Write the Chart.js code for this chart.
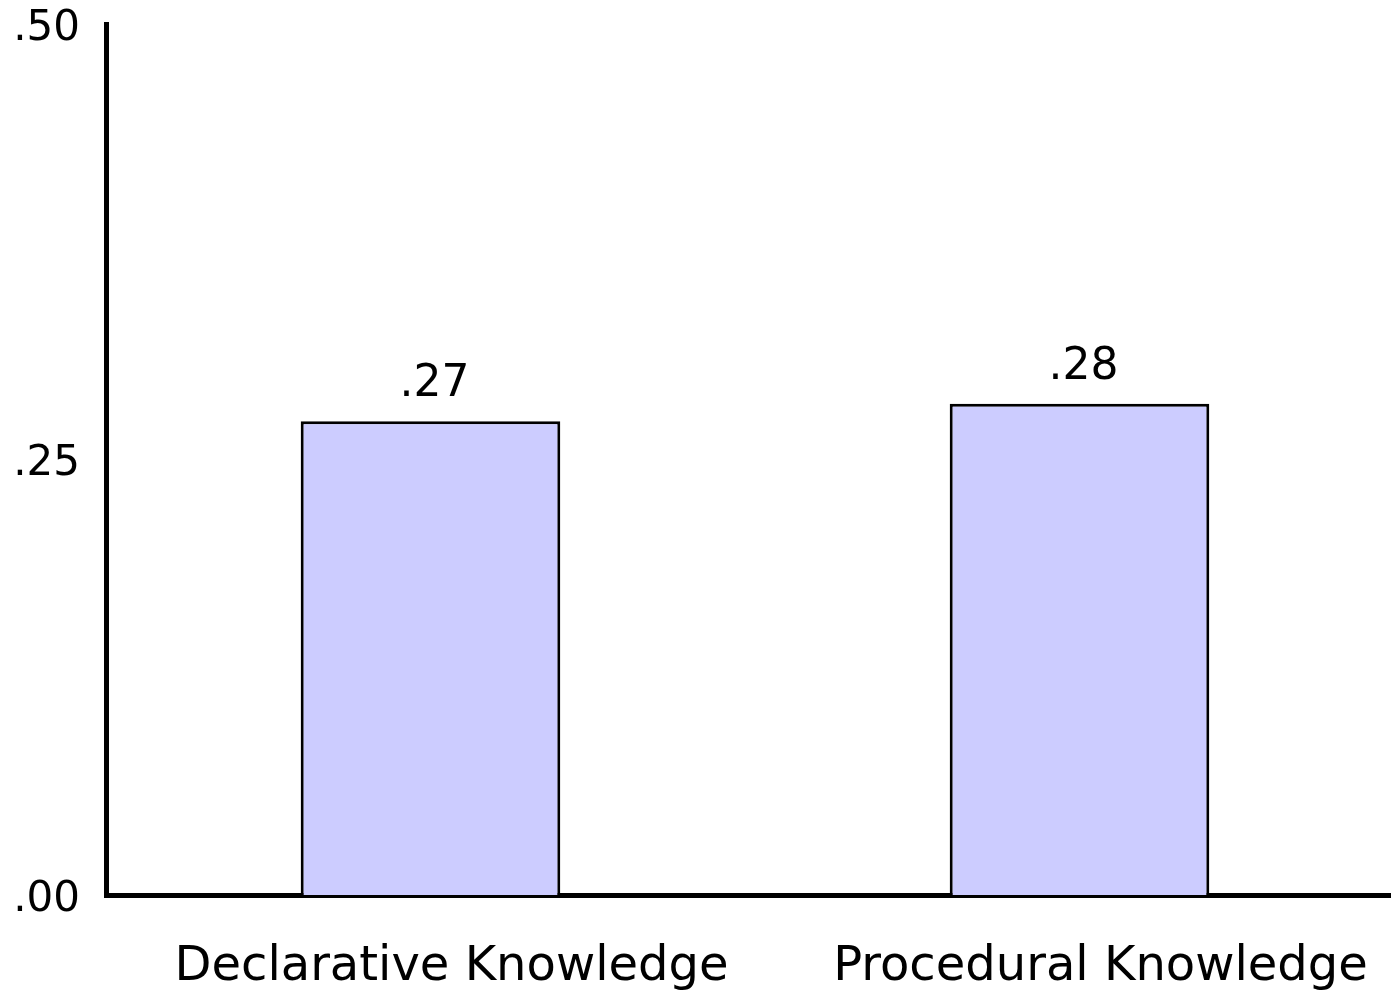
<!DOCTYPE html>
<html>
<head>
<meta charset="utf-8">
<script src="https://cdn.jsdelivr.net/npm/chart.js@4"></script>
<style>
html,body{margin:0;padding:0;background:#fff;overflow:hidden;}
#wrap{width:1404px;height:994px;position:relative;}
</style>
</head>
<body>
<div id="wrap"><canvas id="c"></canvas></div>
<script>
const categories = ["Declarative Knowledge", "Procedural Knowledge"];
const values = [0.272, 0.282];
const yTicks = [0, 0.25, 0.5];

function fmt(v){ return v.toFixed(2).replace(/^0/, ''); }

const valueLabels = {
  id: 'valueLabels',
  afterDatasetsDraw(chart){
    const ctx = chart.ctx;
    const meta = chart.getDatasetMeta(0);
    ctx.save();
    ctx.font = '44px "DejaVu Sans"';
    ctx.fillStyle = '#000';
    ctx.textAlign = 'center';
    ctx.textBaseline = 'alphabetic';
    meta.data.forEach((bar, i) => {
      ctx.fillText(fmt(values[i]), bar.x + 4, bar.y - 25);
    });
    ctx.restore();
  }
};

new Chart(document.getElementById('c'), {
  type: 'bar',
  data: {
    labels: categories,
    datasets: [{
      data: values,
      backgroundColor: '#CCCCFF',
      borderColor: '#000',
      borderWidth: 3,
      borderSkipped: 'bottom',
      barPercentage: 0.4,
      categoryPercentage: 1.0
    }]
  },
  options: {
    responsive: true,
    maintainAspectRatio: false,
    animation: false,
    layout: { padding: { top: 24, right: 0, left: 0, bottom: 0 } },
    plugins: { legend: { display: false }, tooltip: { enabled: false } },
    scales: {
      x: {
        grid: { display: false, drawTicks: false },
        border: { display: true, width: 5, color: '#000' },
        ticks: { color: '#000', font: { family: 'DejaVu Sans', size: 48 }, padding: 44, labelOffset: 21, maxRotation: 0, autoSkip: false },
        afterFit(s){ s.height = 99; s.paddingLeft = 0; s.paddingRight = 0; }
      },
      y: {
        min: 0, max: 0.5,
        afterBuildTicks(s){ s.ticks = yTicks.map(v => ({ value: v })); },
        grid: { display: false, drawTicks: false },
        border: { display: true, width: 5, color: '#000' },
        ticks: { color: '#000', font: { family: 'DejaVu Sans', size: 42 }, padding: 26, labelOffset: 5, callback: v => fmt(v) },
        afterFit(s){ s.width = 106; s.paddingTop = 0; s.paddingBottom = 0; }
      }
    }
  },
  plugins: [valueLabels]
});
</script>
</body>
</html>
